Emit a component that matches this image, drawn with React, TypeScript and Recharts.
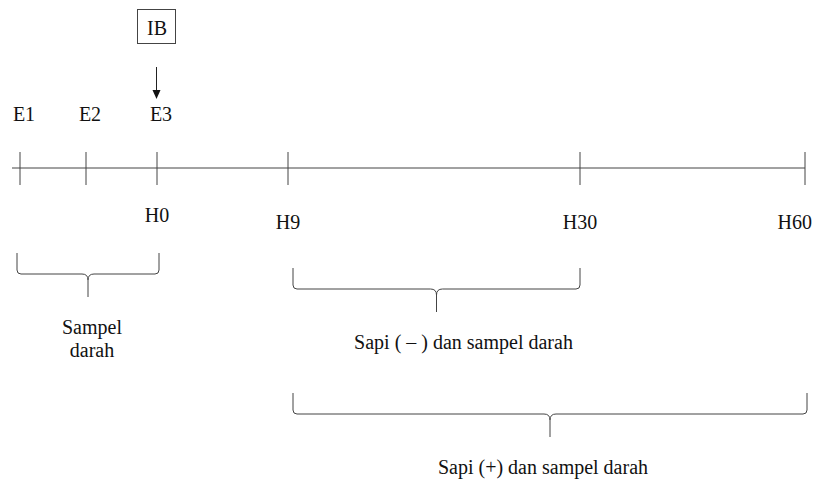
import React from 'react';
import { ComposedChart, XAxis, YAxis, Scatter, ReferenceLine, ReferenceArea } from 'recharts';

// timeline stages (position along the drawn time axis, diagram units)
const stagePos = [20, 86, 157, 288, 580, 805];
const topLabels = ['E1', 'E2', 'E3', '', '', ''];
const bottomLabels = ['', '', 'H0', 'H9', 'H30', 'H60'];

// brackets under the axis
const braceLabels = [['Sampel', 'darah'], ['Sapi ( \u2013 ) dan sampel darah'], ['Sapi (+) dan sampel darah']];
const braceStart = [17, 293, 293];
const braceEnd = [159, 580, 807];

// insemination marker
const markerLabel = 'IB';
const markerStage = 2;

const W = 814;
const H = 479;
const AXIS_Y = 168;
const AXIS_START = 12;
const FONT = 'Liberation Serif';
const INK = '#111';
const LINE = '#444';

const braceTop = [253, 268, 393];
const braceShift = [4, 27, -7];

const stageData = stagePos.map((x, i) => ({ x, y: AXIS_Y, top: topLabels[i], bottom: bottomLabels[i], last: i === stagePos.length - 1 }));
const markerData = [{ x: stagePos[markerStage], y: 27, label: markerLabel }];

const StageLabel = (props: any) => {
  const { cx, cy, payload } = props;
  const bottomDy = payload.top ? 54 : 61;
  return (
    <g>
      {payload.top ? (
        <text x={cx + 4} y={cy - 47} textAnchor="middle" fontFamily={FONT} fontSize={20} fill={INK}>{payload.top}</text>
      ) : null}
      {payload.bottom ? (
        <text x={payload.last ? cx + 7 : cx} y={cy + bottomDy} textAnchor={payload.last ? 'end' : 'middle'} fontFamily={FONT} fontSize={20} fill={INK}>{payload.bottom}</text>
      ) : null}
    </g>
  );
};

const Marker = (props: any) => {
  const { cx, cy, payload } = props;
  return (
    <g>
      <rect x={cx - 19.5} y={cy - 17.5} width={38} height={34} fill="#fff" stroke={LINE} strokeWidth={1} />
      <text x={cx} y={cy + 8} textAnchor="middle" fontFamily={FONT} fontSize={20} fill={INK}>{payload.label}</text>
      <line x1={cx - 0.5} y1={cy + 40} x2={cx - 0.5} y2={cy + 64} stroke="#222" strokeWidth={1} />
      <path d={`M ${cx - 4.5} ${cy + 63} L ${cx + 3.5} ${cy + 63} L ${cx - 0.5} ${cy + 72} Z`} fill="#111" />
    </g>
  );
};

const makeBrace = (i: number) => (props: any) => {
  const { x, y, width, height } = props;
  const arm = 21;
  const r = 4;
  const mid = x + width / 2;
  const yb = y + arm;
  const tip = y + height;
  const d = [
    `M ${x} ${y}`,
    `L ${x} ${yb - r}`,
    `Q ${x} ${yb} ${x + r} ${yb}`,
    `L ${mid - 6} ${yb}`,
    `Q ${mid} ${yb} ${mid} ${yb + 6}`,
    `L ${mid} ${tip}`,
    `M ${mid} ${yb + 6}`,
    `Q ${mid} ${yb} ${mid + 6} ${yb}`,
    `L ${x + width - r} ${yb}`,
    `Q ${x + width} ${yb} ${x + width} ${yb - r}`,
    `L ${x + width} ${y}`,
  ].join(' ');
  const lines = braceLabels[i];
  return (
    <g>
      <path d={d} fill="none" stroke={LINE} strokeWidth={1} />
      {lines.map((t, k) => (
        <text key={k} x={mid + braceShift[i]} y={tip + 37 + k * 23} textAnchor="middle" fontFamily={FONT} fontSize={20} fill={INK}>{t}</text>
      ))}
    </g>
  );
};

export default function App() {
  return (
    <div style={{ position: 'absolute', left: 0, top: 0, background: '#fff', fontFamily: FONT }}>
      <ComposedChart width={W} height={H} margin={{ top: 0, right: 0, bottom: 0, left: 0 }} style={{ fontFamily: FONT }}>
        <XAxis type="number" dataKey="x" domain={[0, W]} hide />
        <YAxis type="number" dataKey="y" domain={[0, H]} reversed hide />
        <ReferenceLine segment={[{ x: AXIS_START, y: AXIS_Y }, { x: stagePos[stagePos.length - 1], y: AXIS_Y }]} stroke={LINE} strokeWidth={1} />
        {stagePos.map((p, i) => (
          <ReferenceLine key={i} segment={[{ x: p, y: 152 }, { x: p, y: 185 }]} stroke={LINE} strokeWidth={1} />
        ))}
        {braceStart.map((s, i) => (
          <ReferenceArea key={i} x1={s} x2={braceEnd[i]} y1={braceTop[i]} y2={braceTop[i] + 44} shape={makeBrace(i)} />
        ))}
        <Scatter data={stageData} dataKey="y" shape={StageLabel} isAnimationActive={false} />
        <Scatter data={markerData} dataKey="y" shape={Marker} isAnimationActive={false} />
      </ComposedChart>
    </div>
  );
}
